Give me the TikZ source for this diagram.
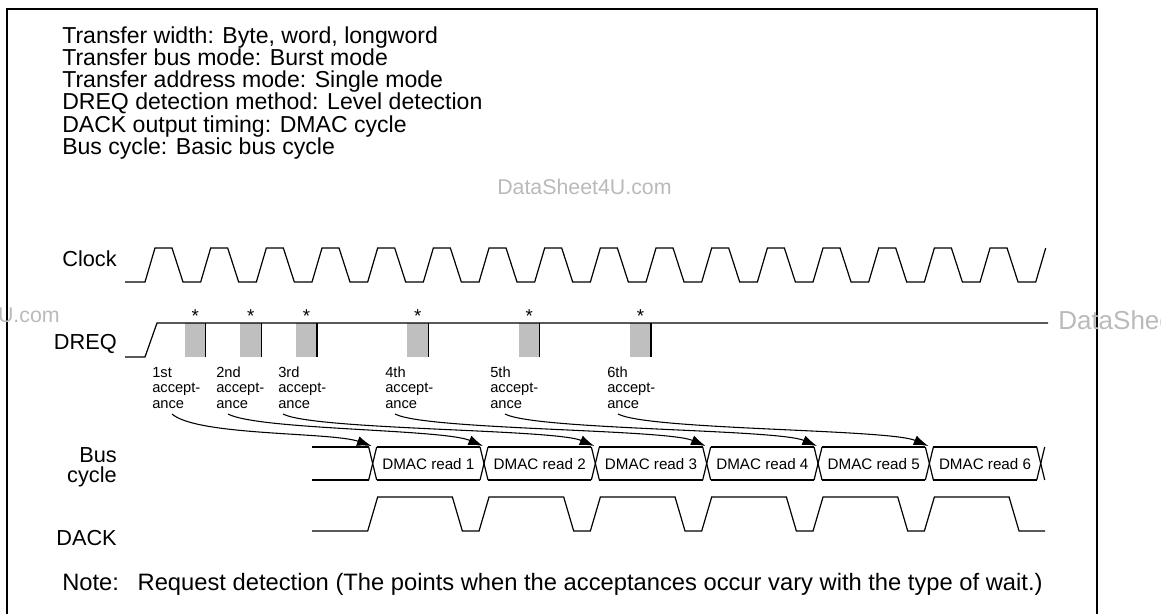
\documentclass[tikz,border=0pt]{standalone}
\usepackage{fontspec}
\setmainfont{Liberation Sans}
\usetikzlibrary{arrows.meta,calc}
\begin{document}
\begin{tikzpicture}[x=0.75pt,y=-0.75pt,
  wave/.style={line width=0.9pt, line join=miter},
  frame/.style={line width=1pt},
  maintext/.style={font=\fontsize{17.3}{17.3}\selectfont, inner sep=0pt},
  notetext/.style={font=\fontsize{17.8}{17.8}\selectfont, inner sep=0pt},
  siglabel/.style={font=\fontsize{16.3}{16.5}\selectfont, inner sep=0pt, align=right},
  small/.style={font=\fontsize{11}{11.6}\selectfont, inner sep=0pt, align=left},
  astfont/.style={font=\fontsize{14}{14}\selectfont, inner sep=0pt},
  busfont/.style={font=\fontsize{11.4}{12}\selectfont, inner sep=0pt},
  wm/.style={font=\fontsize{16}{16}\selectfont, text=black!27, inner sep=0pt},
  reqbox/.style={fill=black!25, draw=none},
  acc/.style={line width=0.8pt, -{Latex[length=11pt,width=7.5pt]}}]
\useasboundingbox (0,0) rectangle (1161,614);
\pgfmathsetmacro{\P}{55.67}
% frame
\draw[frame] (7,620) -- (7,9) -- (1097,9) -- (1097,620);
% header text
\node[maintext, anchor=base west] (t1) at (62,43) {Transfer width: Byte, word, longword};
\node[maintext, anchor=base west] (t2) at (62,65) {Transfer bus mode: Burst mode};
\node[maintext, anchor=base west] (t3) at (62,87) {Transfer address mode: Single mode};
\node[maintext, anchor=base west] (t4) at (62,109) {DREQ detection method: Level detection};
\node[maintext, anchor=base west] (t5) at (62,132) {DACK output timing: DMAC cycle};
\node[maintext, anchor=base west] (t6) at (62,154) {Bus cycle: Basic bus cycle};
% watermarks
\node[wm, anchor=base west] (wm1) at (497,194) {DataSheet4U.com};
\node[wm, anchor=base east] (wm2) at (60,322) {DataSheet4U.com};
\node[wm, anchor=base west, font=\fontsize{19.5}{19.5}\selectfont] (wm3) at (1058,329) {DataSheet4U.com};
% signal labels
\node[siglabel, anchor=base east] (lclk) at (117,266) {Clock};
\node[siglabel, anchor=base east] (ldreq) at (117,349) {DREQ};
\node[siglabel, anchor=base east] (lbus1) at (117,462) {Bus};
\node[siglabel, anchor=base east] (lbus2) at (117,482) {cycle};
\node[siglabel, anchor=base east] (ldack) at (117,545) {DACK};
% clock
\draw[wave] (125,282) -- (145,282)
  \foreach \k in {0,...,15} { -- ({145+\k*\P},282) -- ({155+\k*\P},248) -- ({172+\k*\P},248) -- ({183+\k*\P},282) }
  -- ({145+16*\P},282) -- ({155+16*\P},248);
% DREQ request boxes
\foreach \k/\n in {1/1,2/2,3/3,5/4,7/5,9/6} {
  \pgfmathsetmacro{\e}{150+\k*\P}
  \fill[reqbox] ({\e-21},323) rectangle (\e,357);
  \draw[wave] (\e,323) -- (\e,357);
  \node[astfont, anchor=base] (ast\n) at ({\e-10.5},322.5) {*};
}
\draw[wave] (125,357) -- (145,357) -- (157,323) -- (1048,323);
% acceptance labels
\foreach \x/\n/\o in {152/1/1st,216/2/2nd,278/3/3rd,385/4/4th,490/5/5th,607/6/6th} {
  \node[small, anchor=base west] (acc\n) at (\x,408) {\o\\accept-\\ance};
}
% bus cycle
\draw[wave] (312,447) -- ({150+4*\P-4},447);
\draw[wave] (312,480) -- ({150+4*\P-4},480);
\foreach \j in {0,...,6} {
  \pgfmathsetmacro{\c}{150+(4+2*\j)*\P}
  \draw[wave] ({\c-4},447) -- ({\c+4},480);
  \draw[wave] ({\c-4},480) -- ({\c+4},447);
  \coordinate (x\j) at ({\c-1},446);
}
\foreach \j in {0,...,5} {
  \pgfmathsetmacro{\c}{150+(4+2*\j)*\P}
  \pgfmathsetmacro{\d}{150+(6+2*\j)*\P}
  \pgfmathtruncatemacro{\m}{\j+1}
  \draw[wave] ({\c+4},447) -- ({\d-4},447);
  \draw[wave] ({\c+4},480) -- ({\d-4},480);
  \node[busfont] (bus\m) at ({(\c+\d)/2},464) {DMAC read \m};
}
% DACK
\draw[wave] (312,531)
  \foreach \k in {4,6,...,14} { -- ({145+\k*\P},531) -- ({155+\k*\P},497) -- ({174+(\k+1)*\P},497) -- ({184+(\k+1)*\P},531) }
  -- (1045,531);
% acceptance arrows
\coordinate (s1) at (172,414);
\coordinate (s2) at (228,414);
\coordinate (s3) at (283,414);
\coordinate (s4) at (395,414);
\coordinate (s5) at (505,414);
\coordinate (s6) at (618,414);
\draw[acc] (s1) .. controls ($(s1)+(25,22)$) and ($(x0)+(-40,-14)$) .. (x0);
\foreach \i/\t in {2/x1,3/x2,4/x3,5/x4,6/x5} {
  \draw[acc] (s\i) .. controls ($(s\i)+(30,16)$) and ($(\t)+(-40,-17)$) .. (\t);
}
% note
\node[notetext, anchor=base west] (note) at (62,590) {Note:\hspace{14pt}Request detection (The points when the acceptances occur vary with the type of wait.)};
\end{tikzpicture}
\end{document}
